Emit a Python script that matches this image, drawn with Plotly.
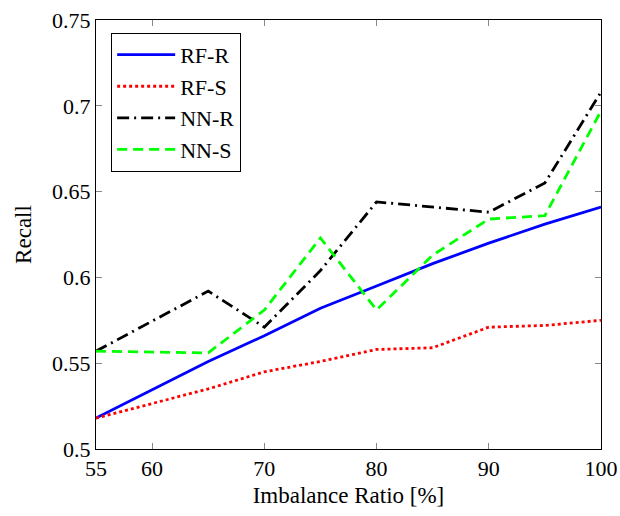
import plotly.graph_objects as go

x_vals = [55, 65, 70, 75, 80, 85, 90, 95, 100]
rf_r = [0.518, 0.551, 0.566, 0.582, 0.595, 0.608, 0.620, 0.631, 0.641]
rf_s = [0.518, 0.535, 0.545, 0.551, 0.558, 0.559, 0.571, 0.572, 0.575]
nn_r = [0.557, 0.592, 0.571, 0.604, 0.644, 0.641, 0.638, 0.655, 0.708]
nn_s = [0.557, 0.556, 0.581, 0.623, 0.581, 0.613, 0.634, 0.636, 0.697]

x_ticks = [55, 60, 70, 80, 90, 100]
y_ticks = [0.5, 0.55, 0.6, 0.65, 0.7, 0.75]
y_tick_text = ["0.5", "0.55", "0.6", "0.65", "0.7", "0.75"]

font_family = "Liberation Serif, DejaVu Serif, serif"

fig = go.Figure()
fig.add_trace(go.Scatter(x=x_vals, y=rf_r, name="RF-R", mode="lines",
                         line=dict(color="#0000ff", width=2.8)))
fig.add_trace(go.Scatter(x=x_vals, y=rf_s, name="RF-S", mode="lines",
                         line=dict(color="#ff0000", width=2.8, dash="dot")))
fig.add_trace(go.Scatter(x=x_vals, y=nn_r, name="NN-R", mode="lines",
                         line=dict(color="#000000", width=2.8, dash="12px,5px,2px,5px")))
fig.add_trace(go.Scatter(x=x_vals, y=nn_s, name="NN-S", mode="lines",
                         line=dict(color="#00ff00", width=2.8, dash="10px,6px")))

axis_common = dict(
    showgrid=False, zeroline=False, showline=True, linecolor="black", linewidth=1,
    mirror="ticks", ticks="inside", ticklen=6, tickcolor="#888888", tickwidth=1,
    tickfont=dict(family=font_family, size=22, color="black"), automargin=False,
)

fig.update_layout(
    width=620, height=516,
    margin=dict(l=96, r=19, t=20, b=67),
    paper_bgcolor="white", plot_bgcolor="white",
    font=dict(family=font_family, color="black"),
    xaxis=dict(range=[55, 100], tickvals=x_ticks, title=dict(text="Imbalance Ratio [%]",
               font=dict(size=23), standoff=6), **axis_common),
    yaxis=dict(range=[0.5, 0.75], tickvals=y_ticks, ticktext=y_tick_text,
               title=dict(text="Recall", font=dict(size=23), standoff=14), **axis_common),
    legend=dict(x=0.03, y=0.97, xanchor="left", yanchor="top",
                bordercolor="black", borderwidth=1, bgcolor="white",
                font=dict(family=font_family, size=22), tracegroupgap=0,
                itemwidth=58),
    showlegend=True,
)

fig.write_html("out.html")
